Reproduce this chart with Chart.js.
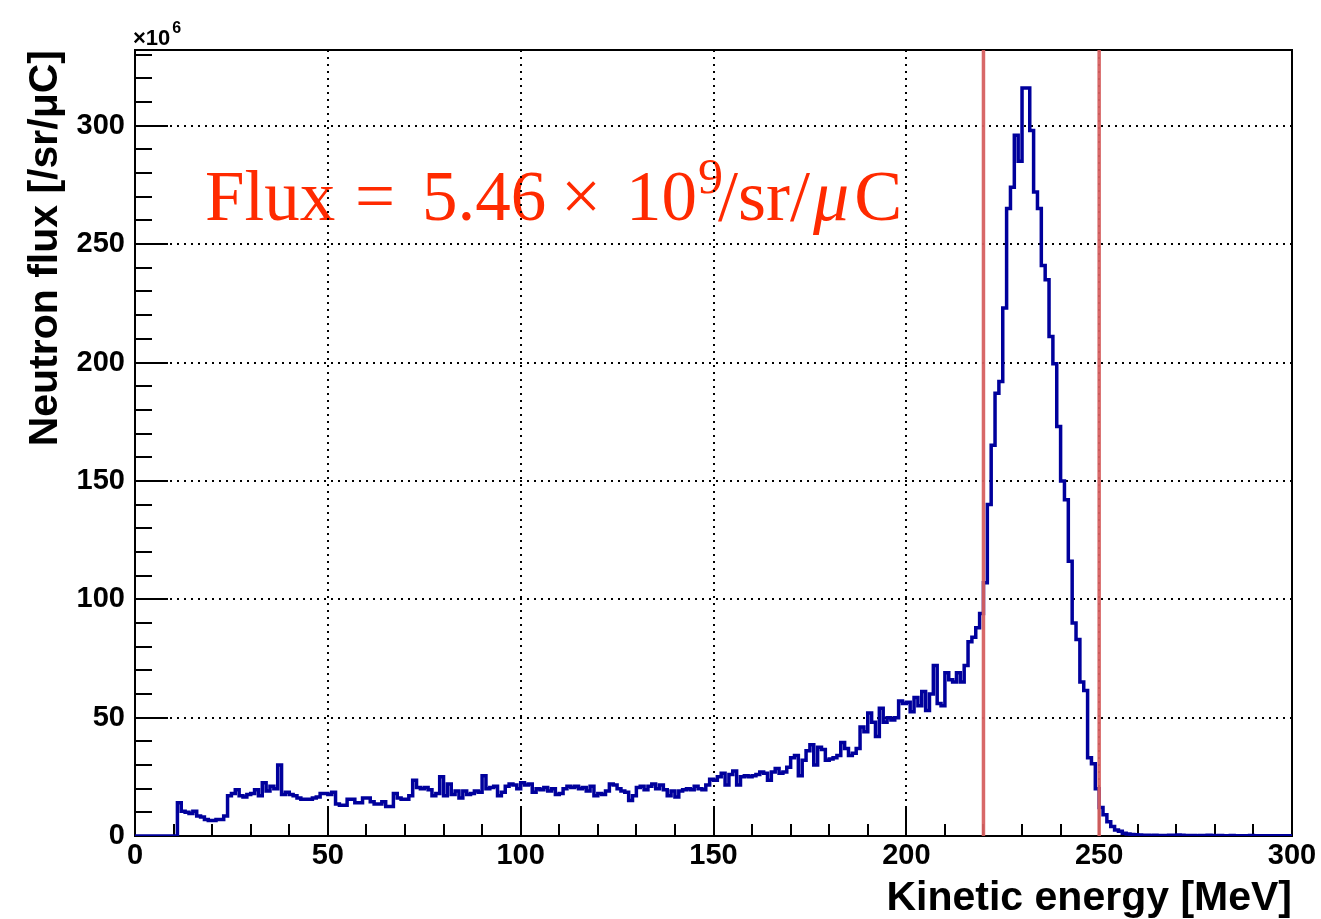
<!DOCTYPE html>
<html>
<head>
<meta charset="utf-8">
<script src="https://cdn.jsdelivr.net/npm/chart.js"></script>
<style>
html,body{margin:0;padding:0;background:#fff;}
#wrap{width:1321px;height:919px;position:relative;}
</style>
</head>
<body>
<div id="wrap"><canvas id="c" width="1321" height="919"></canvas></div>
<script>
// ---- data (neutron flux per 1 MeV bin, x10^6 /sr/uC) ----
const binStart = 0;      // MeV, left edge of first bin
const binWidth = 1;      // MeV
// bins 0-59 MeV
const fluxLow = [0,0,0,0,0,0,0,0,0,0, 0,14,10.5,10,9.5,10.5,8.5,8,7,6.5,
  6.5,7,7,8.5,17,18,19.5,17,16.5,17.5, 18,19.5,17,22.5,19,21,20,30,17.5,18.5,
  17.5,17,16,15.5,15.5,15.5,16,16.5,18,18, 17.5,18.5,13.5,13,13,15.5,15.5,14,14,16];
// bins 60-149 MeV
const fluxPlateau = [16,14.5,13.5,13.5,14.5,12.5,12.5,18,16,15.5,
  15.5,17,23.5,20.5,20,20.5,19.5,17,18,25,
  17,22,17.5,19,16,19,17.5,18,19,18.5,
  25.5,20,20.5,21,17,18.5,21,22,21.5,20,
  22.5,21.5,22,18.5,20,19.5,20.5,19,20,17.5,
  18,20,21,20.5,21,20,20.5,19,21,17,
  18,17.5,19,22,21.5,20,19,18.5,15,17,
  20.5,21,19.5,21,22,20,21.5,19.5,17,19,
  16.5,19,19.5,20,19.5,21,20,19.5,21.5,24];
// bins 150-219 MeV
const fluxRise = [23.5,25,26.5,21.5,26,27.5,21.5,25,25.5,25,
  25.5,26,27,26.5,23.5,27,28.5,26.5,27,29,
  33,34,25.5,32,36,38.5,30,37.5,36.5,32,
  32.5,33,34,39.5,37,34,35,37,46,44,
  52,48,42,54,48,50,49,50,57,56,
  56.5,52.5,58.5,55,61,53,60,72,56,55,
  69,66,65,69,65,72,82,84,88,94];
// bins 220-259 MeV
const fluxPeak = [107,140,165,187,192,223,265,274,296,285,
  316,316,298,272,265,241,235,211,199.5,173,
  150,142,116,90,83,65,61.5,33,30.5,20,
  12,9,6,4,2.5,2,1.2,0.8,0.6,0.5];
// bins 260-299 MeV
const fluxTail = [0.4,0.3,0.3,0.2,0.3,0.2,0.2,0.2,0.3,0.2,
  0.4,0.3,0.2,0.2,0.2,0.1,0.2,0.2,0.3,0.2,
  0.1,0.2,0.1,0.1,0.2,0.1,0.1,0.1,0.1,0.2,
  0.1,0.1,0.1,0.1,0.1,0.1,0.1,0.1,0.1,0.1];

const cutLines = [220, 250];               // MeV, selection window
const xTickValues = [0,10,20,30,40,50,60,70,80,90,100,110,120,130,140,150,160,170,180,190,200,210,220,230,240,250,260,270,280,290,300];
const yTickValues = [0,10,20,30,40,50,60,70,80,90,100,110,120,130,140,150,160,170,180,190,200,210,220,230,240,250,260,270,280,290,300,310,320,330];
const xRange = [0, 300];
const yRange = [0, 332];
const labelEvery = 50;

const xTitle = 'Kinetic energy [MeV]';
const yTitle = 'Neutron flux [/sr/\u03bcC]';
const fluxNote = {mant: '5.46', exp: '9', unit: '/sr/', mu: '\u03bc', tail: 'C'};

// ---- build histogram points (step "before": value holds until next edge) ----
const fluxAll = [].concat(fluxLow, fluxPlateau, fluxRise, fluxPeak, fluxTail);
const histPoints = fluxAll.map((v, i) => ({x: binStart + i * binWidth, y: v}));
histPoints.push({x: binStart + fluxAll.length * binWidth, y: fluxAll[fluxAll.length - 1]});

const cutDatasets = cutLines.map(e => ({
  data: [{x: e, y: yRange[0]}, {x: e, y: yRange[1]}],
  borderColor: 'rgba(214,96,96,0.95)',
  borderWidth: 3.5,
  pointRadius: 0,
  fill: false,
  order: 0,
  clip: 0
}));

const SANS = '"Liberation Sans", Arial, Helvetica, sans-serif';
const SERIF = '"Liberation Serif", "Times New Roman", serif';

const rootPlugin = {
  id: 'rootDecor',
  beforeDraw(chart) {
    const ctx = chart.ctx;
    ctx.save();
    ctx.fillStyle = '#fff';
    ctx.fillRect(0, 0, chart.width, chart.height);
    // Flux annotation (drawn under the grid like the original)
    ctx.fillStyle = '#ff2a00';
    ctx.textBaseline = 'alphabetic';
    ctx.textAlign = 'left';
    const base = 220;
    ctx.font = '71px ' + SERIF;
    ctx.fillText('Flux', 205, base);
    ctx.fillText('=', 355, base);
    ctx.fillText(fluxNote.mant, 422, base);
    ctx.fillText('\u00d7', 561, base);
    ctx.fillText('10', 626, base);
    let px = 626 + ctx.measureText('10').width + 1;
    ctx.font = '50px ' + SERIF;
    ctx.fillText(fluxNote.exp, px, 193);
    px = 718;
    ctx.font = '72px ' + SERIF;
    ctx.fillText(fluxNote.unit, px, base);
    px += ctx.measureText(fluxNote.unit).width + 3;
    ctx.font = 'italic 72px ' + SERIF;
    ctx.fillText(fluxNote.mu, px, base);
    px += ctx.measureText(fluxNote.mu).width + 5;
    ctx.font = '72px ' + SERIF;
    ctx.fillText(fluxNote.tail, px, base);
    ctx.restore();
  },
  beforeDatasetsDraw(chart) {
    const {ctx, chartArea: a, scales: {x, y}} = chart;
    ctx.save();
    ctx.strokeStyle = '#000';
    ctx.lineWidth = 2;
    ctx.strokeRect(a.left, a.top, a.right - a.left, a.bottom - a.top);
    ctx.beginPath();
    x.ticks.forEach(t => {
      const p = Math.round(x.getPixelForValue(t.value));
      const L = (t.value % labelEvery === 0) ? 29 : 12;
      ctx.moveTo(p, a.bottom);
      ctx.lineTo(p, a.bottom - L);
    });
    y.ticks.forEach(t => {
      const p = Math.round(y.getPixelForValue(t.value));
      const L = (t.value % labelEvery === 0) ? 33 : 17;
      ctx.moveTo(a.left, p);
      ctx.lineTo(a.left + L, p);
    });
    ctx.stroke();
    // x10^6 multiplier
    ctx.fillStyle = '#000';
    ctx.textBaseline = 'alphabetic';
    ctx.textAlign = 'left';
    ctx.font = 'bold 22px ' + SANS;
    ctx.fillText('\u00d710', a.left - 2, a.top - 5);
    const w = ctx.measureText('\u00d710').width;
    ctx.font = 'bold 16px ' + SANS;
    ctx.fillText('6', a.left - 2 + w + 2, a.top - 17);
    ctx.restore();
  }
};

new Chart(document.getElementById('c'), {
  type: 'line',
  data: {
    datasets: [
      ...cutDatasets,
      {
        data: histPoints,
        borderColor: '#00009c',
        borderWidth: 3.5,
        stepped: true,
        pointRadius: 0,
        fill: false,
        borderJoinStyle: 'miter',
        order: 1
      }
    ]
  },
  options: {
    responsive: false,
    animation: false,
    devicePixelRatio: 1,
    layout: {padding: {left: 0, top: 50, right: 29, bottom: 0}},
    plugins: {legend: {display: false}, tooltip: {enabled: false}},
    scales: {
      x: {
        type: 'linear',
        min: xRange[0], max: xRange[1],
        afterBuildTicks: s => { s.ticks = xTickValues.map(v => ({value: v})); },
        afterFit: s => { s.height = 83; },
        grid: {
          drawTicks: false,
          lineWidth: 2,
          color: c => (c.tick && c.tick.value % labelEvery === 0) ? '#000' : 'rgba(0,0,0,0)'
        },
        border: {display: false, dash: [2, 5]},
        ticks: {
          autoSkip: false, maxRotation: 0, padding: 3, color: '#000',
          font: {family: SANS, size: 29, weight: 'bold'},
          callback: v => (v % labelEvery === 0) ? String(v) : ''
        },
        title: {
          display: true, text: xTitle, align: 'end', color: '#000',
          font: {family: SANS, size: 41, weight: 'bold', lineHeight: 1},
          padding: {top: 0, bottom: 0}
        }
      },
      y: {
        type: 'linear',
        min: yRange[0], max: yRange[1],
        afterBuildTicks: s => { s.ticks = yTickValues.map(v => ({value: v})); },
        afterFit: s => { s.width = 135; },
        grid: {
          drawTicks: false,
          lineWidth: 2,
          color: c => (c.tick && c.tick.value % labelEvery === 0) ? '#000' : 'rgba(0,0,0,0)'
        },
        border: {display: false, dash: [2, 5]},
        ticks: {
          autoSkip: false, padding: 10, color: '#000',
          font: {family: SANS, size: 29, weight: 'bold'},
          callback: v => (v % labelEvery === 0) ? String(v) : ''
        },
        title: {
          display: true, text: yTitle, align: 'end', color: '#000',
          font: {family: SANS, size: 41, weight: 'bold', lineHeight: 1},
          padding: {top: 25, bottom: 0}
        }
      }
    }
  },
  plugins: [rootPlugin]
});
</script>
</body>
</html>
